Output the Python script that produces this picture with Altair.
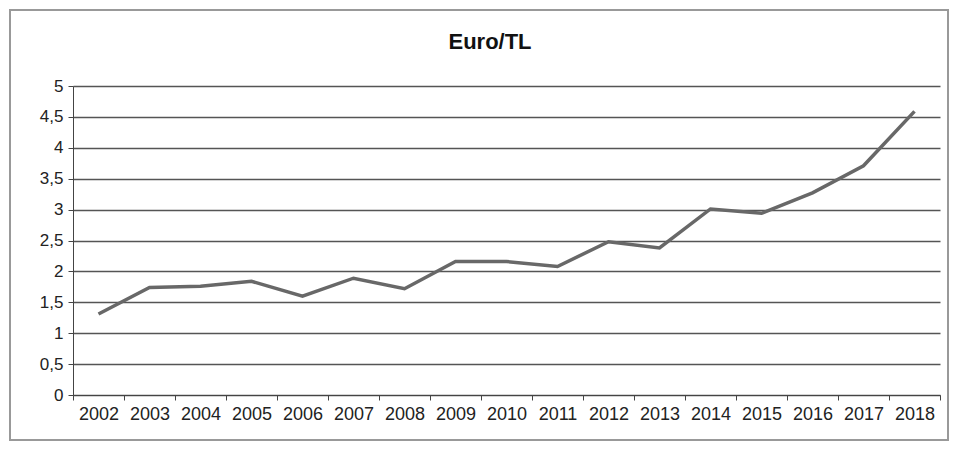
import altair as alt
import pandas as pd

years = [str(y) for y in range(2002, 2019)]
values = [1.31, 1.74, 1.76, 1.84, 1.60, 1.89, 1.72, 2.16, 2.16, 2.08, 2.48, 2.38, 3.01, 2.94, 3.27, 3.71, 4.59]
title_text = ["Euro/TL"]

df = pd.DataFrame({"year": years, "value": values})
tdf = pd.DataFrame({"t": title_text})

W, H = 867, 309
PL, PT = 65, 78

line = alt.Chart(df).mark_line(color="#686868", strokeWidth=3.5).encode(
    x=alt.X("year:O", title=None, scale=alt.Scale(paddingInner=0, paddingOuter=0),
            axis=alt.Axis(labelAngle=0, tickBand="extent", labelFontSize=18, labelColor="#222",
                          labelFont="Liberation Sans", domainColor="#444", tickColor="#444",
                          tickSize=5, grid=False, labelPadding=5)),
    y=alt.Y("value:Q", title=None, scale=alt.Scale(domain=[0, 5], nice=False),
            axis=alt.Axis(values=[0, 0.5, 1, 1.5, 2, 2.5, 3, 3.5, 4, 4.5, 5],
                          labelExpr="replace(toString(datum.value), '.', ',')",
                          labelFontSize=17, labelColor="#222", labelFont="Liberation Sans",
                          gridColor="#555", gridWidth=1.5, gridOpacity=1,
                          domainColor="#444", tickColor="#444", tickSize=5, labelPadding=5)),
)

frame = alt.Chart(tdf).mark_rect(fill=None, stroke="#999", strokeWidth=2, clip=False).encode(
    x=alt.value(-63), x2=alt.value(W + 8), y=alt.value(-76), y2=alt.value(H + 45)
)

title = alt.Chart(tdf).mark_text(fontSize=22, fontWeight="bold", font="Liberation Sans",
                                  color="#111", clip=False).encode(
    text="t:N", x=alt.value(417), y=alt.value(-44)
)

chart = alt.layer(frame, line, title).properties(
    width=W, height=H,
    autosize=alt.AutoSizeParams(type="none"),
    padding={"left": PL, "top": PT, "right": 10, "bottom": 47},
).configure_view(stroke=None)

chart.save("out.html", embed_options={"renderer": "svg", "actions": False})
